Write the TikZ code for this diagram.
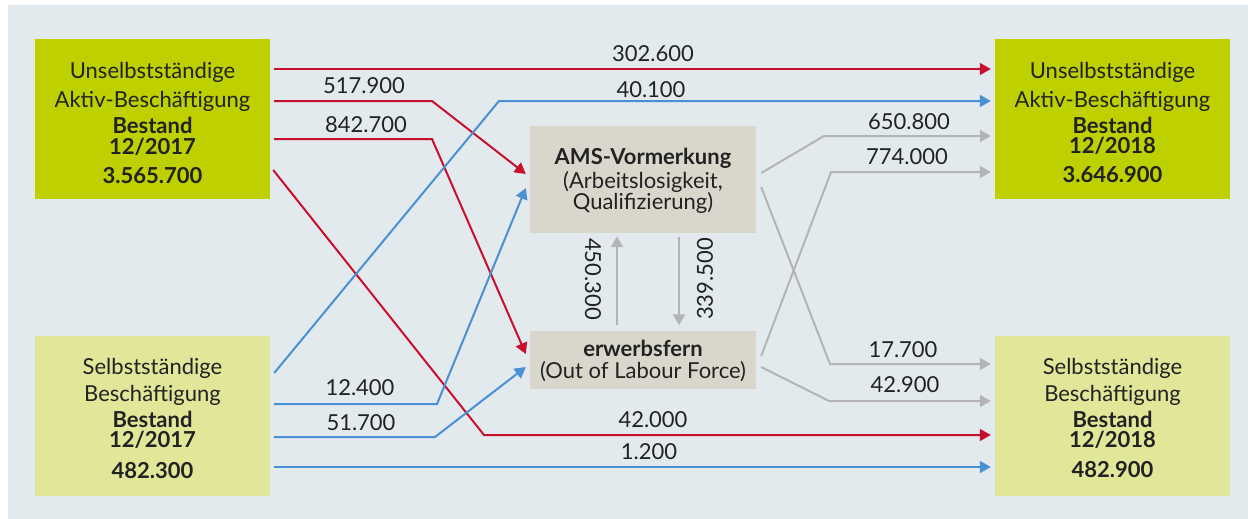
\documentclass[tikz,border=0pt]{standalone}
\usepackage{fontspec}
\setmainfont{Lato}
\usetikzlibrary{arrows.meta}
\definecolor{bgc}{HTML}{E3EAEE}
\definecolor{darkgreen}{HTML}{BED000}
\definecolor{lightgreen}{HTML}{E1E698}
\definecolor{amsgray}{HTML}{D9D7CC}
\definecolor{redc}{HTML}{C8102E}
\definecolor{bluec}{HTML}{4A90D4}
\definecolor{grayc}{HTML}{B4B4B6}
\definecolor{ink}{HTML}{222222}
\newcommand{\fsz}{\fontsize{22}{26}\selectfont}
\begin{document}
\begin{tikzpicture}[x=1pt,y=-1pt,
  bigbox/.style={draw=none, inner sep=0pt, minimum width=235pt, minimum height=160pt},
  midbox/.style={draw=none, fill=amsgray, inner sep=0pt, minimum width=226pt},
  txt/.style={anchor=base, inner sep=0pt, font=\fsz, text=ink},
  btxt/.style={anchor=base, inner sep=0pt, font=\fsz\bfseries, text=ink},
  num/.style={anchor=base, inner sep=0pt, font=\fsz, text=ink},
  tip/.style={-{Triangle[length=11pt,width=12pt]}},
  redl/.style={draw=redc, line width=2pt, tip},
  bluel/.style={draw=bluec, line width=2pt, tip},
  grayl/.style={draw=grayc, line width=2pt, tip}
]
\useasboundingbox (0,0) rectangle (1248,519);
\fill[bgc] (8,5) rectangle (1248,519);

% boxes
\node[bigbox, fill=darkgreen] (ua17) at (152.5,119) {};
\node[bigbox, fill=lightgreen] (sb17) at (152.5,416) {};
\node[bigbox, fill=darkgreen] (ua18) at (1112.5,119) {};
\node[bigbox, fill=lightgreen] (sb18) at (1112.5,416) {};
\node[midbox, minimum height=107pt] (ams) at (643,179.5) {};
\node[midbox, minimum height=58.5pt] (ef) at (643,359.75) {};

% box texts
\node[txt]  (ua17a) at (152.5,79)  {Unselbstständige};
\node[txt]  (ua17b) at (152.5,107) {Aktiv-Beschäftigung};
\node[btxt] (ua17c) at (152.5,133) {Bestand};
\node[btxt] (ua17d) at (152.5,154) {12/2017};
\node[btxt] (ua17e) at (152.5,183) {3.565.700};

\node[txt]  (ua18a) at (1112.5,79)  {Unselbstständige};
\node[txt]  (ua18b) at (1112.5,107) {Aktiv-Beschäftigung};
\node[btxt] (ua18c) at (1112.5,133) {Bestand};
\node[btxt] (ua18d) at (1112.5,153.5) {12/2018};
\node[btxt] (ua18e) at (1112.5,182.5) {3.646.900};

\node[txt]  (sb17a) at (152.5,374) {Selbstständige};
\node[txt]  (sb17b) at (152.5,401) {Beschäftigung};
\node[btxt] (sb17c) at (152.5,427) {Bestand};
\node[btxt] (sb17d) at (152.5,447.5) {12/2017};
\node[btxt] (sb17e) at (152.5,478) {482.300};

\node[txt]  (sb18a) at (1112.5,374) {Selbstständige};
\node[txt]  (sb18b) at (1112.5,401) {Beschäftigung};
\node[btxt] (sb18c) at (1112.5,427) {Bestand};
\node[btxt] (sb18d) at (1112.5,447.5) {12/2018};
\node[btxt] (sb18e) at (1112.5,477.5) {482.900};

\node[btxt] (amsa) at (643,164) {AMS-Vormerkung};
\node[txt]  (amsb) at (643,188) {(Arbeitslosigkeit,};
\node[txt]  (amsc) at (643,209.5) {Qualifizierung)};

\node[btxt] (efa) at (643,356) {erwerbsfern};
\node[txt]  (efb) at (643,378.5) {(Out of Labour Force)};

% red connectors
\draw[redl] ([xshift=4pt]ua17.east |- 0,69) -- ([xshift=-4pt]ua18.west |- 0,69);
\draw[redl] ([xshift=4pt]ua17.east |- 0,101) -- (432,101) -- ([xshift=-4pt]ams.west |- 0,174);
\draw[redl] ([xshift=4pt]ua17.east |- 0,139) -- (432,139) -- ([xshift=-4pt]ef.west |- 0,354);
\draw[redl] ([xshift=3pt]ua17.east |- 0,170) -- (484,435) -- ([xshift=-4pt]sb18.west |- 0,435);

% blue connectors
\draw[bluel] ([xshift=4pt]sb17.east |- 0,373) -- (499,101) -- ([xshift=-4pt]ua18.west |- 0,101);
\draw[bluel] ([xshift=4pt]sb17.east |- 0,404) -- (437,404) -- ([xshift=-4pt]ams.west |- 0,188);
\draw[bluel] ([xshift=4pt]sb17.east |- 0,437) -- (435,437) -- ([xshift=-4pt]ef.west |- 0,367);
\draw[bluel] ([xshift=4pt]sb17.east |- 0,467) -- ([xshift=-4pt]sb18.west |- 0,467);

% gray connectors
\draw[grayl] ([xshift=5pt]ams.east |- 0,173) -- (824,136) -- ([xshift=-4pt]ua18.west |- 0,136);
\draw[grayl] ([xshift=5pt]ef.east |- 0,356) -- (831,172) -- ([xshift=-4pt]ua18.west |- 0,172);
\draw[grayl] ([xshift=5pt]ams.east |- 0,187) -- (830,364) -- ([xshift=-4pt]sb18.west |- 0,364);
\draw[grayl] ([xshift=5pt]ef.east |- 0,367) -- (829,401) -- ([xshift=-4pt]sb18.west |- 0,401);
\draw[grayl] ([yshift=5pt]ef.north -| 617,0) -- ([yshift=-3pt]ams.south -| 617,0);
\draw[grayl] ([yshift=-4pt]ams.south -| 679,0) -- ([yshift=5pt]ef.north -| 679,0);

% connector labels
\node[num] (l1) at (653,62) {302.600};
\node[num] (l2) at (651,97) {40.100};
\node[num] (l3) at (364,93) {517.900};
\node[num] (l4) at (366,132) {842.700};
\node[num] (l5) at (909,129) {650.800};
\node[num] (l6) at (907,164) {774.000};
\node[num] (l7) at (360,395) {12.400};
\node[num] (l8) at (361,430) {51.700};
\node[num] (l9) at (903,357) {17.700};
\node[num] (l10) at (905,392) {42.900};
\node[num] (l11) at (653,427) {42.000};
\node[num] (l12) at (649,459) {1.200};
\node[num, anchor=center, rotate=-90] (l13) at (593,279) {450.300};
\node[num, anchor=center, rotate=90] (l14) at (705,279) {339.500};
\end{tikzpicture}
\end{document}
